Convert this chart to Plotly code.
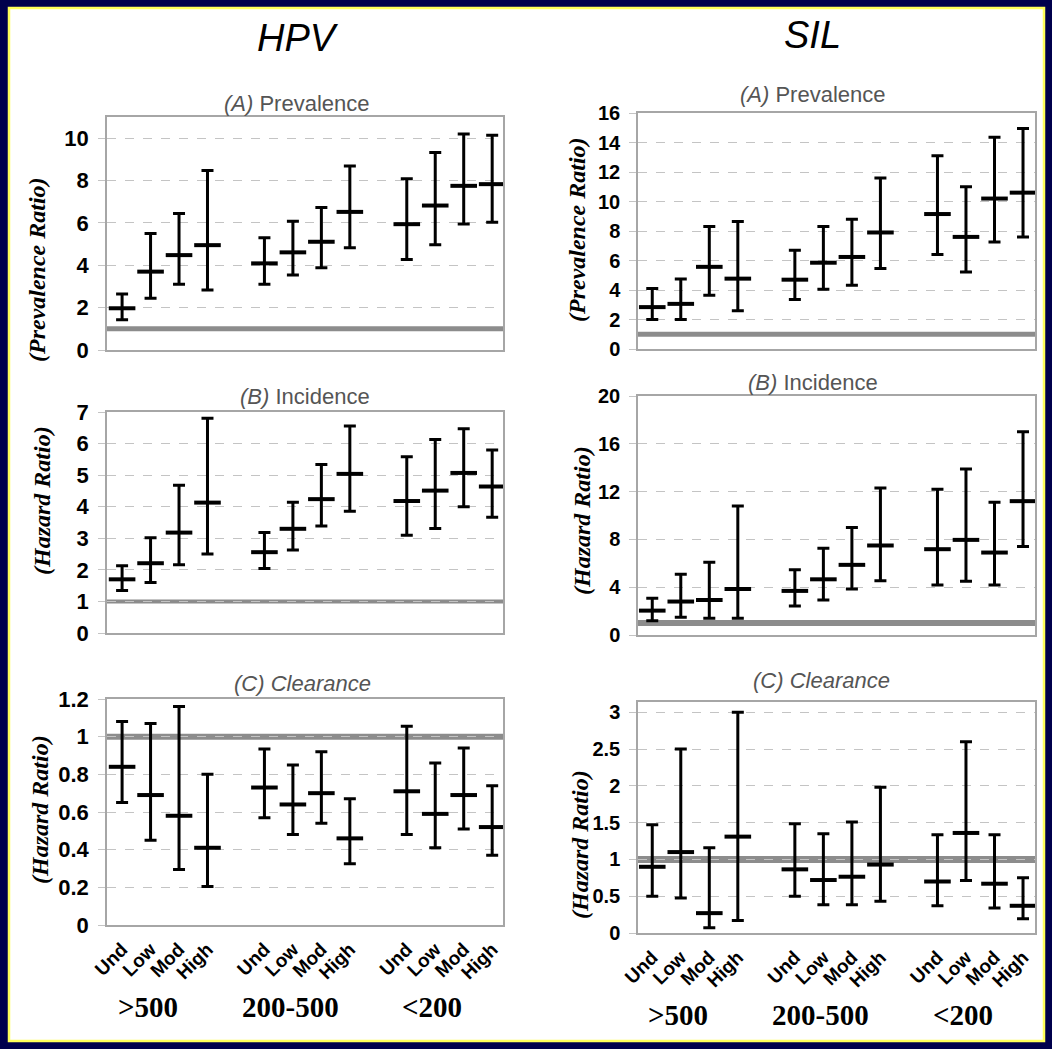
import plotly.graph_objects as go

# ---------------- data ----------------
categories = ["Und", "Low", "Mod", "High"]
groups = [">500", "200-500", "<200"]
x_pos = [0, 1, 2, 3, 5, 6, 7, 8, 10, 11, 12, 13]
group_centers = [1.5, 6.5, 11.5]
tick_labels = categories * 3

# HPV (A) Prevalence ratio
hpv_prev_est = [1.97, 3.70, 4.48, 4.95, 4.09, 4.61, 5.11, 6.52, 5.94, 6.82, 7.75, 7.83]
hpv_prev_lo = [1.43, 2.44, 3.10, 2.83, 3.10, 3.54, 3.88, 4.83, 4.27, 4.97, 5.95, 6.03]
hpv_prev_hi = [2.64, 5.50, 6.44, 8.48, 5.30, 6.08, 6.73, 8.69, 8.09, 9.32, 10.20, 10.14]

# HPV (B) Incidence hazard ratio
hpv_inc_est = [1.70, 2.21, 3.18, 4.13, 2.56, 3.30, 4.24, 5.04, 4.18, 4.51, 5.07, 4.64]
hpv_inc_lo = [1.35, 1.60, 2.16, 2.50, 2.04, 2.63, 3.39, 3.86, 3.10, 3.31, 4.00, 3.67]
hpv_inc_hi = [2.13, 3.02, 4.68, 6.80, 3.18, 4.14, 5.34, 6.56, 5.58, 6.13, 6.47, 5.80]

# HPV (C) Clearance hazard ratio
hpv_clr_est = [0.84, 0.69, 0.58, 0.41, 0.73, 0.64, 0.70, 0.46, 0.71, 0.59, 0.69, 0.52]
hpv_clr_lo = [0.65, 0.45, 0.295, 0.205, 0.57, 0.48, 0.54, 0.325, 0.48, 0.41, 0.51, 0.37]
hpv_clr_hi = [1.08, 1.07, 1.16, 0.80, 0.935, 0.85, 0.92, 0.67, 1.055, 0.86, 0.94, 0.74]

# SIL (A) Prevalence ratio
sil_prev_est = [2.84, 3.06, 5.57, 4.77, 4.70, 5.85, 6.24, 7.90, 9.15, 7.60, 10.20, 10.60]
sil_prev_lo = [2.00, 2.00, 3.64, 2.60, 3.35, 4.05, 4.32, 5.45, 6.40, 5.22, 7.25, 7.60]
sil_prev_hi = [4.10, 4.75, 8.30, 8.65, 6.70, 8.30, 8.80, 11.60, 13.10, 11.00, 14.35, 14.95]

# SIL (B) Incidence hazard ratio
sil_inc_est = [2.04, 2.80, 2.93, 3.85, 3.69, 4.66, 5.87, 7.49, 7.18, 7.96, 6.90, 11.20]
sil_inc_lo = [1.20, 1.48, 1.40, 1.40, 2.43, 2.93, 3.85, 4.55, 4.19, 4.50, 4.19, 7.40]
sil_inc_hi = [3.07, 5.08, 6.09, 10.80, 5.45, 7.26, 9.00, 12.30, 12.20, 13.90, 11.10, 17.00]

# SIL (C) Clearance hazard ratio
sil_clr_est = [0.90, 1.10, 0.27, 1.31, 0.865, 0.72, 0.765, 0.93, 0.70, 1.36, 0.67, 0.37]
sil_clr_lo = [0.50, 0.475, 0.07, 0.17, 0.50, 0.385, 0.385, 0.43, 0.37, 0.715, 0.34, 0.195]
sil_clr_hi = [1.47, 2.50, 1.16, 3.00, 1.485, 1.35, 1.51, 1.98, 1.335, 2.60, 1.335, 0.75]

reference_value = 1

hpv_prev_ticks = [0, 2, 4, 6, 8, 10]
hpv_inc_ticks = [0, 1, 2, 3, 4, 5, 6, 7]
hpv_clr_ticks = [0, 0.2, 0.4, 0.6, 0.8, 1, 1.2]
sil_prev_ticks = [0, 2, 4, 6, 8, 10, 12, 14, 16]
sil_inc_ticks = [0, 4, 8, 12, 16, 20]
sil_clr_ticks = [0, 0.5, 1, 1.5, 2, 2.5, 3]

# ---------------- layout helpers ----------------
W, H = 1052, 1049


def fx(p):
    return p / W


def fy(p):
    return 1 - p / H


def fmt(v):
    return "%g" % v


panels = [
    dict(est=hpv_prev_est, lo=hpv_prev_lo, hi=hpv_prev_hi, ticks=hpv_prev_ticks,
         xd=(107, 503), yd=(117, 350), xr=[-0.53, 13.38], yr=[0, 11], side="L",
         title="<i>(A)</i> Prevalence", tpos=(297, 104), ytitle="(Prevalence Ratio)",
         ypos=(37, 270), bottom=False, tfs=22, refw=5),
    dict(est=sil_prev_est, lo=sil_prev_lo, hi=sil_prev_hi, ticks=sil_prev_ticks,
         xd=(638, 1035), yd=(113, 349), xr=[-0.5, 13.42], yr=[0, 16], side="R",
         title="<i>(A)</i> Prevalence", tpos=(813, 95), ytitle="(Prevalence Ratio)",
         ypos=(577, 230), bottom=False, tfs=20, refw=5),
    dict(est=hpv_inc_est, lo=hpv_inc_lo, hi=hpv_inc_hi, ticks=hpv_inc_ticks,
         xd=(107, 503), yd=(412, 633), xr=[-0.53, 13.38], yr=[0, 7], side="L",
         title="<i>(B)</i> Incidence", tpos=(305, 397), ytitle="(Hazard Ratio)",
         ypos=(42, 501), bottom=False, tfs=22, refw=4),
    dict(est=sil_inc_est, lo=sil_inc_lo, hi=sil_inc_hi, ticks=sil_inc_ticks,
         xd=(638, 1035), yd=(396, 635), xr=[-0.5, 13.42], yr=[0, 20], side="R",
         title="<i>(B)</i> Incidence", tpos=(813, 383), ytitle="(Hazard Ratio)",
         ypos=(582, 521), bottom=False, tfs=20, refw=6),
    dict(est=hpv_clr_est, lo=hpv_clr_lo, hi=hpv_clr_hi, ticks=hpv_clr_ticks,
         xd=(107, 503), yd=(699, 925), xr=[-0.53, 13.38], yr=[0, 1.2], side="L",
         title="<i>(C) Clearance</i>", tpos=(302, 683), ytitle="(Hazard Ratio)",
         ypos=(40, 810), bottom=True, tfs=22, refw=6),
    dict(est=sil_clr_est, lo=sil_clr_lo, hi=sil_clr_hi, ticks=sil_clr_ticks,
         xd=(638, 1035), yd=(702, 933), xr=[-0.5, 13.42], yr=[0, 3.14], side="R",
         title="<i>(C) Clearance</i>", tpos=(821, 680), ytitle="(Hazard Ratio)",
         ypos=(580, 845), bottom=True, tfs=20, refw=7),
]

fig = go.Figure()
annotations = []
shapes = []

NAVY = "#00004c"
GRID = "#c4c4c4"
BOX = "#a6a6a6"
REF = "#8c8c8c"

# outer frame (white panel with thin yellow edge on navy background)
shapes.append(dict(type="rect", xref="paper", yref="paper",
                   x0=fx(9), x1=fx(1044), y0=fy(1041), y1=fy(8),
                   fillcolor="white", line=dict(color="#ffff5a", width=2.5),
                   layer="below"))

for i, p in enumerate(panels, start=1):
    xa = "x" if i == 1 else "x%d" % i
    ya = "y" if i == 1 else "y%d" % i
    xl = "xaxis" if i == 1 else "xaxis%d" % i
    yl = "yaxis" if i == 1 else "yaxis%d" % i

    err_plus = [h - e for h, e in zip(p["hi"], p["est"])]
    err_minus = [e - l for e, l in zip(p["est"], p["lo"])]

    fig.add_trace(go.Scatter(
        x=x_pos, y=p["est"], mode="markers", xaxis=xa, yaxis=ya,
        marker=dict(symbol="line-ew", size=19, color="black",
                    line=dict(color="black", width=4)),
        error_y=dict(type="data", symmetric=False, array=err_plus,
                     arrayminus=err_minus, color="black", thickness=3, width=6),
        showlegend=False, hoverinfo="skip"))

    # reference line at 1
    shapes.append(dict(type="line", xref=xa + " domain", yref=ya,
                       x0=0, x1=1, y0=reference_value, y1=reference_value,
                       line=dict(color=REF, width=p["refw"]), layer="below"))

    xaxis = dict(domain=[fx(p["xd"][0]), fx(p["xd"][1])], range=p["xr"],
                 anchor=ya, showgrid=False, zeroline=False, automargin=False,
                 showline=True, mirror=True, linecolor=BOX, linewidth=1.5,
                 fixedrange=True)
    if p["bottom"]:
        xaxis.update(tickmode="array", tickvals=x_pos, ticktext=tick_labels,
                     tickangle=-45, ticks="outside", ticklen=4,
                     tickcolor="rgba(0,0,0,0)",
                     tickfont=dict(family="Liberation Sans", size=19,
                                   color="black", weight="bold"))
    else:
        xaxis.update(showticklabels=False, ticks="")

    yaxis = dict(domain=[fy(p["yd"][1]), fy(p["yd"][0])], range=p["yr"],
                 anchor=xa, automargin=False, zeroline=False,
                 showline=True, mirror=True, linecolor=BOX, linewidth=1.5,
                 tickmode="array", tickvals=p["ticks"],
                 ticktext=[fmt(t) for t in p["ticks"]],
                 showgrid=True, gridcolor=GRID, gridwidth=1, griddash="dash",
                 ticks="outside", ticklen=7, tickcolor=GRID, tickwidth=1,
                 ticklabelstandoff=5,
                 tickfont=dict(family="Liberation Sans", size=p["tfs"],
                               color="black", weight="bold"),
                 fixedrange=True)
    fig.layout[xl] = xaxis
    fig.layout[yl] = yaxis

    # panel title
    annotations.append(dict(text=p["title"], xref="paper", yref="paper",
                            x=fx(p["tpos"][0]), y=fy(p["tpos"][1]),
                            xanchor="center", yanchor="middle", showarrow=False,
                            font=dict(family="Liberation Sans", size=22,
                                      color="#555555")))
    # y-axis title
    annotations.append(dict(text="<b><i>%s</i></b>" % p["ytitle"], xref="paper",
                            yref="paper", x=fx(p["ypos"][0]), y=fy(p["ypos"][1]),
                            xanchor="center", yanchor="middle", showarrow=False,
                            textangle=-90,
                            font=dict(family="Liberation Serif", size=24,
                                      color="black")))

    # group labels under bottom panels
    if p["bottom"]:
        gy = 1007 if p["side"] == "L" else 1015
        for gc, g in zip(group_centers, groups):
            annotations.append(dict(text="<b>%s</b>" % g, xref=xa, yref="paper",
                                    x=gc - 0.6, y=fy(gy), xanchor="center",
                                    yanchor="middle", showarrow=False,
                                    font=dict(family="Liberation Serif", size=29,
                                              color="black")))

# column headers
annotations.append(dict(text="<i>HPV</i>", xref="paper", yref="paper",
                        x=fx(298), y=fy(38), xanchor="center", yanchor="middle",
                        showarrow=False,
                        font=dict(family="Liberation Sans", size=38, color="black")))
annotations.append(dict(text="<i>SIL</i>", xref="paper", yref="paper",
                        x=fx(812), y=fy(35), xanchor="center", yanchor="middle",
                        showarrow=False,
                        font=dict(family="Liberation Sans", size=38, color="black")))

fig.update_layout(
    width=W, height=H, template="none",
    margin=dict(l=0, r=0, t=0, b=0, pad=0),
    paper_bgcolor=NAVY, plot_bgcolor="white",
    showlegend=False, annotations=annotations, shapes=shapes,
)

fig.write_html("out.html", config={"displayModeBar": False},
               post_script="document.body.style.margin='0';document.body.style.overflow='hidden';")
